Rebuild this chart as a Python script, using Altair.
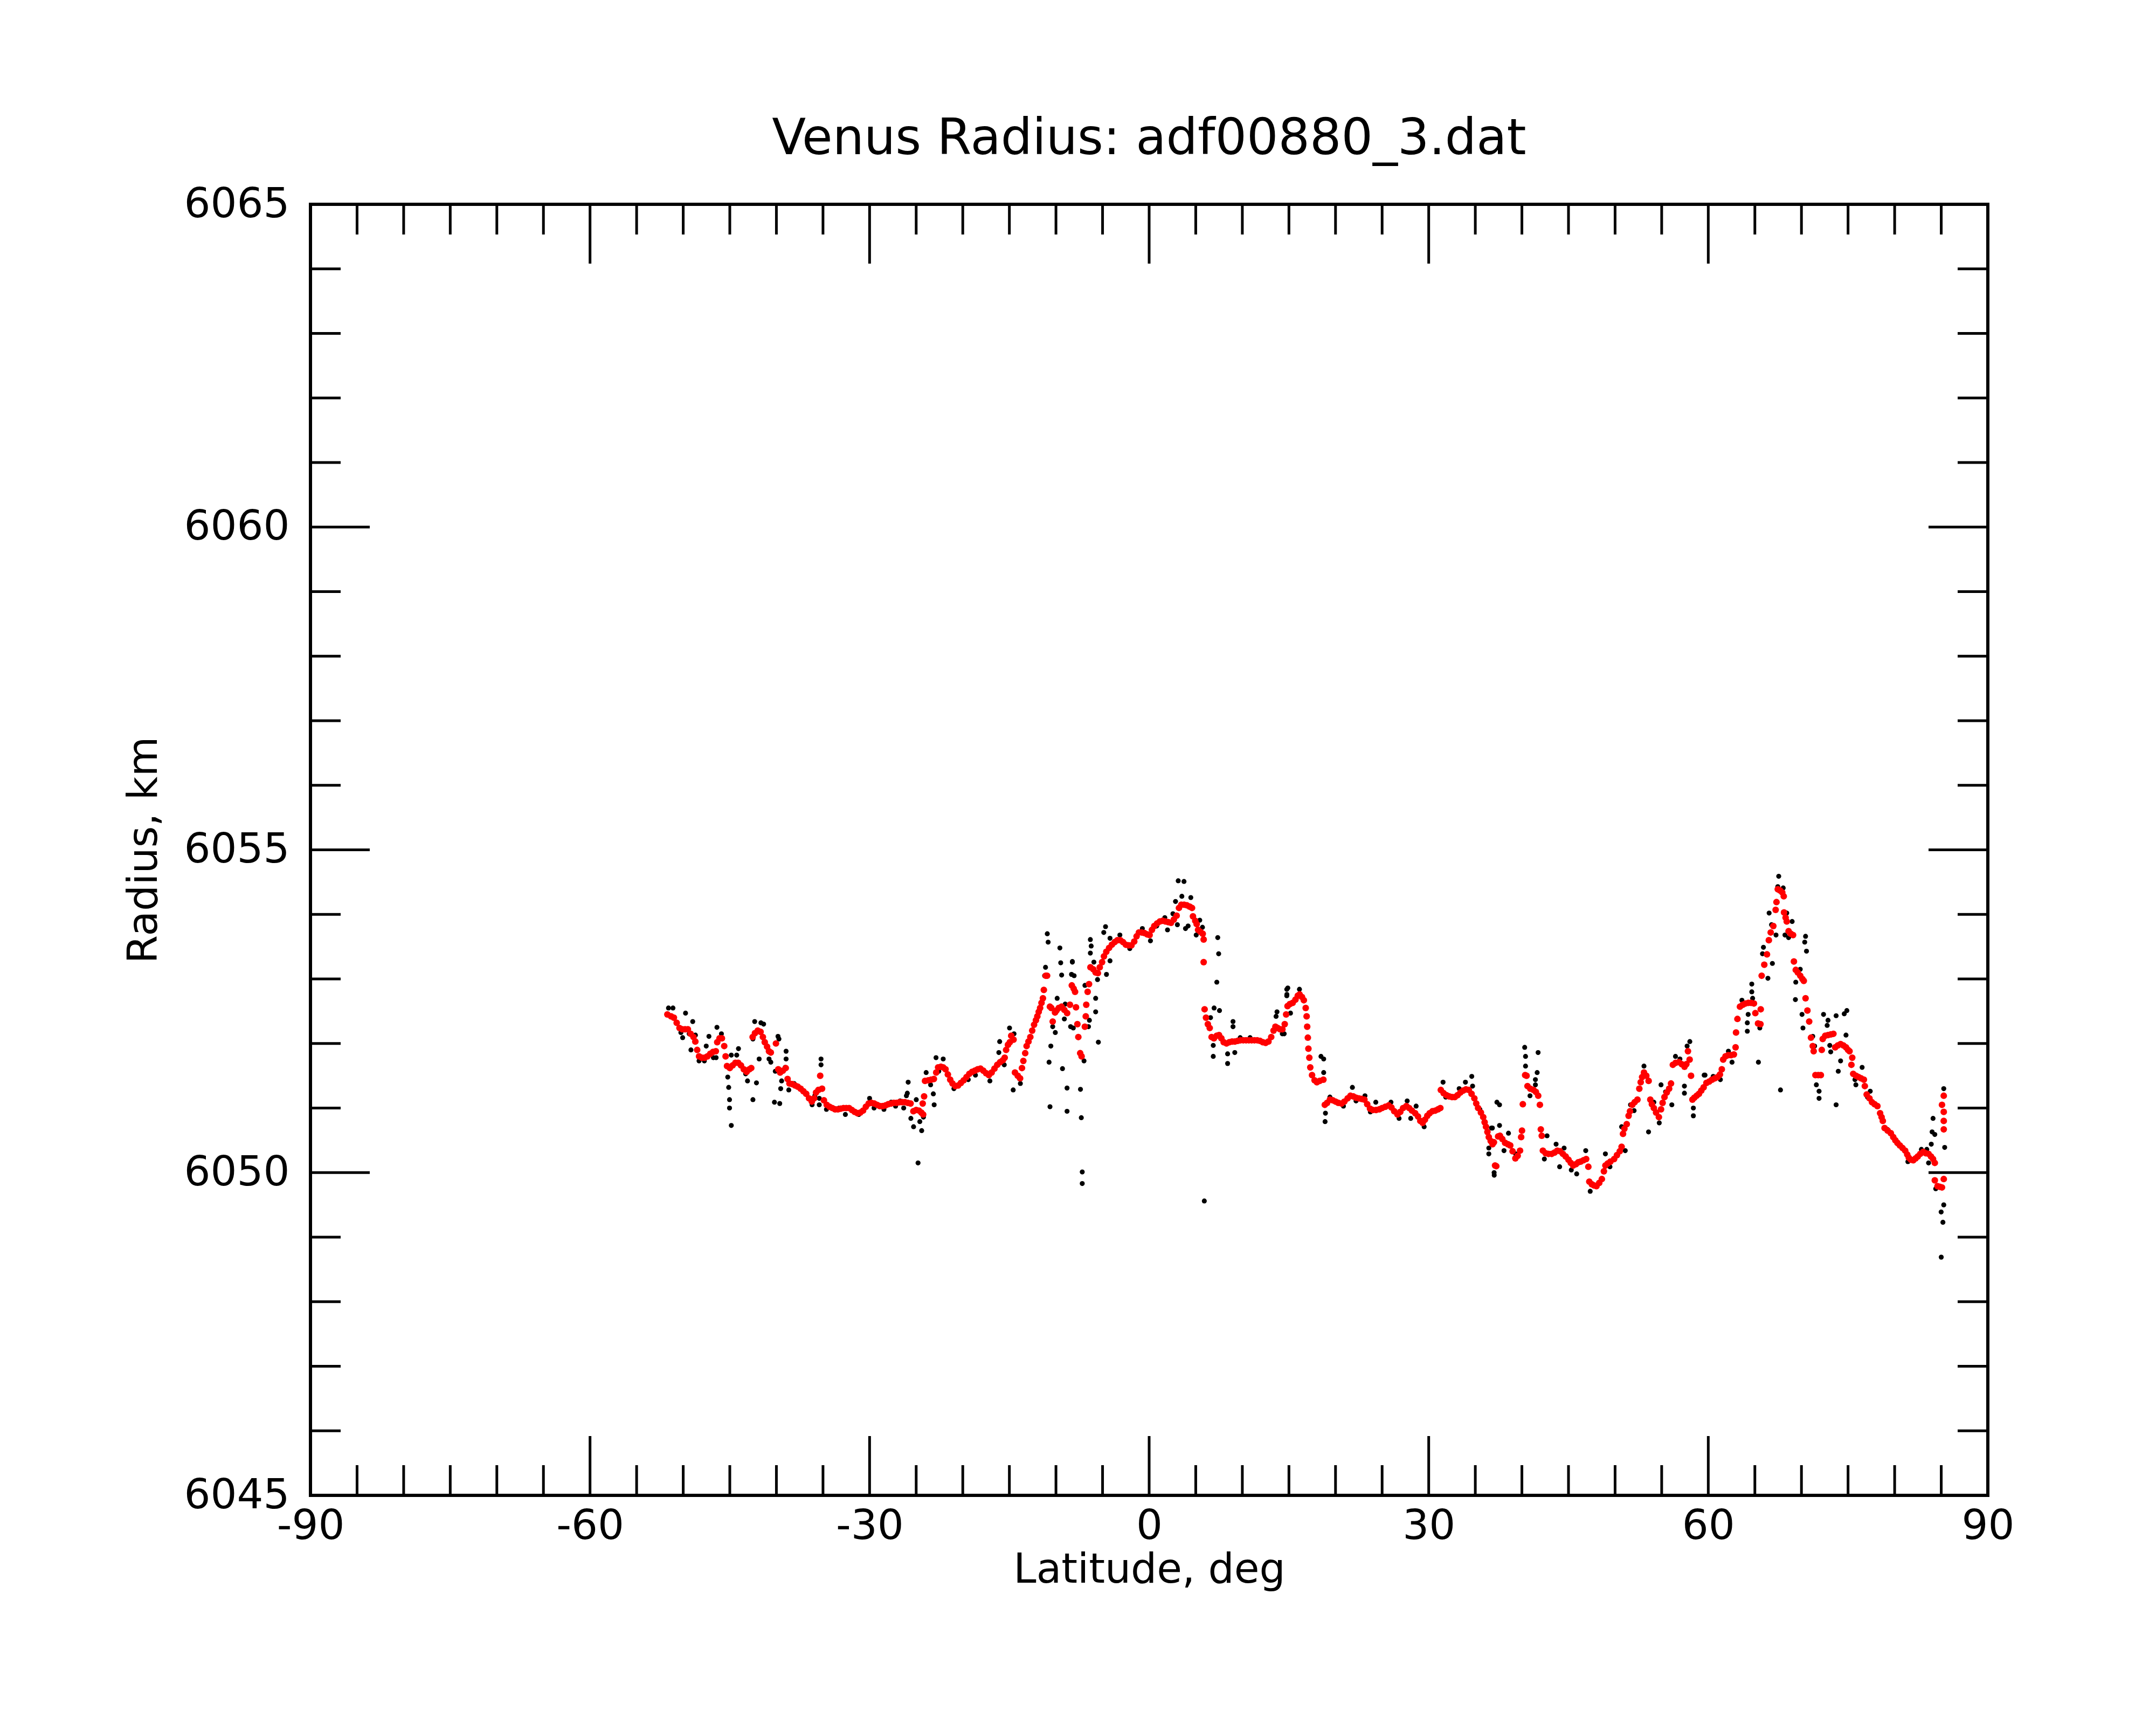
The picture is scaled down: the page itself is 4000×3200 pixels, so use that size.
import altair as alt
import pandas as pd

# ---- smoothed radius (red) ----
red_lat = [
-51.7,-51.3,-51.0,-50.7,-50.4,-50.1,-49.8,-49.5,-49.2,-48.9,-48.7,-48.5,-48.3,-48.0,-47.7,-47.4,-47.1,-46.8,-46.5,-46.35,
-46.1,-45.85,-45.6,-45.45,-45.3,-45.0,-44.7,-44.4,-44.1,-43.8,-43.5,-43.2,-42.9,-42.7,-42.55,-42.3,-42.0,-41.7,-41.45,-41.25,
-41.0,-40.8,-40.6,-40.05,-39.8,-39.6,-39.3,-39.0,-38.8,-38.6,-38.3,-38.0,-37.7,-37.4,-37.1,-36.8,-36.5,-36.2,-35.95,-35.75,
-35.5,-35.3,-35.1,-34.9,-34.6,-34.3,-34.0,-33.7,-33.4,-33.1,-32.8,-32.5,-32.2,-31.9,-31.6,-31.3,-31.0,-30.7,-30.4,-30.1,
-29.8,-29.5,-29.2,-28.9,-28.6,-28.3,-28.0,-27.7,-27.4,-27.1,-26.8,-26.5,-26.2,-25.9,-25.6,-25.3,-25.0,-24.7,-24.45,-24.25,
-24.3,-24.15,-24.05,-23.7,-23.4,-23.1,-22.85,-22.65,-22.35,-22.1,-21.85,-21.6,-21.35,-21.1,-20.8,-20.5,-20.2,-19.9,-19.6,-19.3,
-19.0,-18.7,-18.4,-18.1,-17.8,-17.5,-17.2,-16.9,-16.6,-16.3,-16.0,-15.7,-15.5,-15.35,-15.15,-14.95,-14.8,-14.55,-14.4,-14.1,
-13.85,-13.65,-13.5,-13.3,-13.15,-12.95,-12.75,-12.55,-12.35,-12.15,-12.0,-11.85,-11.7,-11.55,-11.4,-11.3,-11.1,-10.95,-10.65,-10.5,
-10.35,-10.1,-9.95,-9.7,-9.4,-9.1,-8.8,-8.5,-8.3,-8.1,-7.95,-7.85,-7.7,-7.6,-7.4,-7.25,-6.9,-6.8,-6.75,-6.6,
-6.45,-6.3,-6.0,-5.75,-5.5,-5.3,-5.05,-4.85,-4.6,-4.3,-4.0,-3.7,-3.4,-3.1,-2.8,-2.5,-2.2,-1.9,-1.6,-1.35,
-1.1,-0.8,-0.5,-0.2,0.05,0.3,0.55,0.85,1.15,1.45,1.75,2.05,2.35,2.65,2.95,3.2,3.45,3.75,4.05,4.35,
4.6,4.7,4.95,5.1,5.25,5.5,5.75,5.85,5.85,5.95,6.1,6.3,6.5,6.7,6.95,7.25,7.5,7.75,8.0,8.3,
8.6,8.9,9.2,9.5,9.8,10.1,10.4,10.7,11.0,11.3,11.6,11.9,12.2,12.5,12.8,13.1,13.35,13.55,13.8,14.05,
14.3,14.55,14.7,14.85,15.1,15.4,15.7,15.95,16.15,16.4,16.6,16.8,16.9,16.96,17.03,17.09,17.19,17.29,17.48,17.75,
18.0,18.3,18.7,18.85,19.1,19.4,19.7,20.0,20.3,20.65,20.95,21.3,21.6,21.9,22.2,22.5,22.8,23.1,23.4,23.7,
24.0,24.35,24.7,25.0,25.35,25.7,26.0,26.3,26.65,26.95,27.25,27.6,27.9,28.2,28.55,28.85,29.1,29.35,29.6,29.85,
30.1,30.4,30.7,31.0,31.25,31.3,31.6,31.9,32.2,32.5,32.8,33.1,33.4,33.7,34.0,34.3,34.6,34.9,35.1,35.3,
35.6,35.85,36.0,36.15,36.3,36.45,36.65,36.85,37.0,37.12,37.25,37.45,37.65,37.9,38.2,38.5,38.75,39.0,39.3,39.55,
39.8,39.92,40.01,40.1,40.35,40.5,40.6,40.9,41.25,41.5,41.75,41.93,42.03,42.13,42.25,42.55,42.85,43.2,43.5,43.8,
44.1,44.4,44.7,45.0,45.25,45.5,45.8,46.05,46.3,46.6,46.9,47.13,47.23,47.5,47.75,48.0,48.3,48.58,48.8,48.96,
49.2,49.5,49.9,50.2,50.5,50.7,50.85,51.0,51.25,51.45,51.6,51.85,52.1,52.4,52.6,52.75,52.9,53.1,53.35,53.6,
53.78,53.95,54.16,54.4,54.7,54.93,55.1,55.3,55.55,55.8,56.0,56.2,56.5,56.85,57.15,57.45,57.65,57.82,58.0,58.15,
58.3,58.5,58.75,59.0,59.25,59.5,59.8,60.1,60.4,60.7,61.0,61.25,61.45,61.6,61.85,62.15,62.45,62.75,62.93,62.98,
63.13,63.4,63.7,64.0,64.3,64.6,64.9,65.05,65.34,65.6,65.63,65.73,66.01,66.3,66.5,66.7,66.98,67.23,67.32,67.46,
67.7,67.94,68.1,68.13,68.3,68.42,68.62,68.85,69.1,69.19,69.39,69.6,69.87,70.1,70.25,70.44,70.64,70.83,71.02,71.21,
71.31,71.5,71.8,72.08,72.18,72.28,72.55,72.85,73.15,73.43,73.62,73.9,74.2,74.5,74.78,75.0,75.16,75.45,75.36,75.55,
75.85,76.13,76.4,76.7,76.8,77.0,77.3,77.57,77.85,78.15,78.44,78.6,78.73,78.92,79.25,79.59,79.85,80.08,80.3,80.56,
80.85,81.13,81.35,81.52,81.75,82.0,82.25,82.48,82.75,83.06,83.35,83.64,83.9,84.12,84.31,84.31,84.6,84.85,85.08,85.27,
85.27,85.27,85.27,85.08,85.27]
red_r = [
6052.45,6052.42,6052.40,6052.32,6052.24,6052.22,6052.22,6052.22,6052.15,6052.10,6052.03,6051.90,6051.80,6051.78,6051.78,6051.80,6051.84,6051.87,6051.88,6052.02,
6052.08,6052.08,6051.96,6051.80,6051.65,6051.62,6051.66,6051.70,6051.70,6051.66,6051.60,6051.56,6051.60,6051.62,6052.10,6052.16,6052.20,6052.18,6052.10,6052.02,
6051.95,6051.88,6051.86,6052.00,6051.60,6051.55,6051.58,6051.62,6051.45,6051.38,6051.37,6051.35,6051.33,6051.30,6051.26,6051.22,6051.15,6051.10,6051.15,6051.24,
6051.28,6051.50,6051.30,6051.12,6051.05,6051.02,6051.00,6050.98,6050.98,6050.99,6051.00,6051.00,6051.00,6050.97,6050.94,6050.92,6050.93,6050.96,6051.02,6051.07,
6051.08,6051.07,6051.05,6051.03,6051.03,6051.04,6051.06,6051.07,6051.08,6051.08,6051.09,6051.09,6051.09,6051.08,6051.07,6050.95,6050.97,6050.96,6050.93,6050.90,
6051.07,6051.18,6051.42,6051.43,6051.44,6051.45,6051.55,6051.63,6051.64,6051.63,6051.60,6051.52,6051.44,6051.38,6051.34,6051.35,6051.39,6051.43,6051.48,6051.53,
6051.56,6051.58,6051.60,6051.61,6051.58,6051.54,6051.51,6051.55,6051.61,6051.67,6051.71,6051.74,6051.78,6051.90,6051.98,6052.02,6052.12,6052.06,6051.55,6051.50,
6051.46,6051.62,6051.73,6051.85,6051.96,6052.03,6052.10,6052.20,6052.29,6052.36,6052.42,6052.49,6052.55,6052.63,6052.70,6052.83,6053.05,6053.05,6052.57,6052.55,
6052.34,6052.48,6052.51,6052.55,6052.57,6052.52,6052.47,6052.60,6052.90,6052.85,6052.80,6052.56,6052.30,6052.10,6051.85,6051.80,6052.26,6052.42,6052.60,6052.80,
6052.92,6053.18,6053.15,6053.10,6053.09,6053.18,6053.26,6053.35,6053.42,6053.48,6053.53,6053.57,6053.60,6053.60,6053.57,6053.53,6053.52,6053.52,6053.58,6053.66,
6053.72,6053.72,6053.71,6053.69,6053.68,6053.76,6053.82,6053.86,6053.89,6053.90,6053.89,6053.88,6053.87,6053.92,6053.98,6054.10,6054.15,6054.15,6054.14,6054.12,
6054.10,6053.97,6053.90,6053.85,6053.76,6053.73,6053.70,6053.61,6053.26,6052.53,6052.40,6052.30,6052.24,6052.10,6052.08,6052.12,6052.13,6052.08,6052.02,6052.00,
6052.02,6052.03,6052.03,6052.04,6052.05,6052.05,6052.05,6052.05,6052.05,6052.05,6052.05,6052.04,6052.02,6052.01,6052.03,6052.10,6052.20,6052.26,6052.24,6052.22,
6052.22,6052.30,6052.45,6052.58,6052.61,6052.63,6052.68,6052.74,6052.76,6052.72,6052.67,6052.55,6052.42,6052.26,6052.09,6051.92,6051.78,6051.63,6051.51,6051.43,
6051.40,6051.42,6051.44,6051.05,6051.08,6051.13,6051.12,6051.10,6051.08,6051.07,6051.10,6051.15,6051.19,6051.18,6051.16,6051.15,6051.14,6051.13,6051.06,6050.99,
6050.97,6050.97,6050.98,6051.00,6051.02,6051.04,6051.01,6050.95,6050.90,6050.94,6051.00,6051.03,6051.00,6050.96,6050.92,6050.87,6050.80,6050.77,6050.82,6050.88,
6050.92,6050.95,6050.96,6050.98,6051.00,6051.28,6051.23,6051.20,6051.18,6051.17,6051.17,6051.20,6051.24,6051.27,6051.29,6051.28,6051.22,6051.15,6051.07,6051.00,
6050.93,6050.86,6050.78,6050.71,6050.63,6050.55,6050.49,6050.44,6050.47,6050.11,6050.10,6050.56,6050.57,6050.52,6050.46,6050.44,6050.42,6050.33,6050.22,6050.26,
6050.34,6050.55,6050.65,6051.06,6051.51,6051.50,6051.34,6051.30,6051.28,6051.25,6051.19,6051.05,6050.67,6050.57,6050.34,6050.30,6050.29,6050.29,6050.31,6050.34,
6050.33,6050.29,6050.25,6050.20,6050.15,6050.11,6050.13,6050.16,6050.17,6050.19,6050.21,6050.09,6049.86,6049.82,6049.80,6049.79,6049.84,6049.90,6050.02,6050.11,
6050.14,6050.17,6050.21,6050.27,6050.33,6050.40,6050.60,6050.68,6050.75,6050.88,6050.95,6051.05,6051.09,6051.13,6051.30,6051.40,6051.48,6051.55,6051.50,6051.42,
6051.13,6051.06,6051.00,6050.93,6050.86,6050.98,6051.08,6051.17,6051.24,6051.30,6051.38,6051.67,6051.70,6051.71,6051.68,6051.64,6051.68,6051.88,6051.75,6051.50,
6051.13,6051.16,6051.19,6051.22,6051.27,6051.32,6051.39,6051.41,6051.44,6051.46,6051.48,6051.52,6051.60,6051.75,6051.80,6051.82,6051.82,6051.83,6051.94,6052.17,
6052.38,6052.57,6052.60,6052.62,6052.63,6052.63,6052.62,6052.47,6052.31,6052.30,6052.53,6053.05,6053.22,6053.38,6053.60,6053.72,6053.82,6054.07,6054.19,6054.39,
6054.37,6054.34,6054.28,6054.03,6053.95,6053.89,6053.74,6053.70,6053.68,6053.27,6053.14,6053.10,6053.05,6053.00,6052.97,6052.70,6052.51,6052.34,6052.09,6051.96,
6051.88,6051.51,6051.51,6051.51,6051.90,6052.07,6052.12,6052.13,6052.14,6052.15,6051.94,6051.97,6051.99,6051.97,6051.94,6051.90,6051.88,6051.78,6051.67,6051.53,
6051.50,6051.48,6051.46,6051.44,6051.34,6051.21,6051.15,6051.09,6051.06,6051.03,6050.92,6050.86,6050.80,6050.69,6050.65,6050.61,6050.55,6050.50,6050.46,6050.42,
6050.38,6050.34,6050.28,6050.23,6050.20,6050.19,6050.22,6050.25,6050.29,6050.32,6050.30,6050.29,6050.25,6050.21,6050.15,6049.88,6049.79,6049.78,6049.77,6049.90,
6050.67,6050.80,6050.94,6051.05,6051.19]

# ---- individual radius measurements (black) ----
black_lat = [
-51.58,-51.1,-49.75,-48.98,-50.06,-50.25,-49.17,-49.36,-48.69,-48.3,-47.73,-47.53,-47.24,-46.76,-46.47,-46.38,-45.9,-45.22,-45.12,-45.03,
-45.03,-44.84,-44.84,-44.07,-44.26,-43.87,-43.1,-43.3,-42.52,-42.14,-41.85,-42.33,-41.66,-41.37,-42.52,-40.79,-40.6,-40.21,-39.64,-39.54,
-39.44,-40.12,-39.83,-39.73,-38.96,-38.96,-39.06,-38.67,-38.1,-36.17,-35.88,-35.4,-35.4,-35.21,-35.21,-34.63,-33.28,-32.6,-32.32,-31.16,
-30.0,-29.52,-28.46,-27.69,-27.21,-26.73,-26.34,-25.95,-25.86,-26.05,-25.57,-25.28,-24.99,-24.8,-24.41,-24.61,-24.22,-23.93,-23.45,-23.16,
-23.07,-22.87,-22.1,-22.58,-20.95,-19.41,-18.64,-17.09,-16.04,-16.13,-15.55,-14.98,-14.5,-14.59,-13.82,-11.22,-11.12,-10.93,-10.84,-10.55,
-10.74,-10.64,-10.35,-10.07,-9.87,-9.58,-9.49,-9.39,-9.3,-9.1,-9.01,-8.81,-8.81,-8.43,-8.24,-8.33,
-8.24,-8.05,-8.14,-7.37,-7.28,-7.18,-7.18,-6.99,-6.51,-6.41,-6.89,-5.74,-5.74,-5.45,-6.31,-6.22,-6.31,-5.93,-5.54,-4.87,
-4.68,-4.58,-4.2,-4.2,-3.14,-2.08,-0.73,0.14,0.81,1.68,1.97,2.55,2.83,3.12,3.74,3.51,4.47,3.03,3.9,4.18,
5.05,5.43,5.72,5.92,6.59,6.88,6.88,6.97,7.36,7.46,7.26,7.55,8.42,8.42,9.0,9.0,9.19,9.77,10.83,13.72,
13.62,14.29,14.77,14.77,
14.49,14.88,14.78,15.17,16.13,18.44,18.73,18.73,18.92,18.88,19.4,20.85,21.81,22.2,23.16,24.32,23.74,25.95,26.82,27.69,
28.65,28.07,29.51,31.54,31.83,33.27,33.94,34.62,34.71,35.49,36.74,36.45,36.45,37.03,37.32,
37.02,37.6,37.6,36.83,38.56,38.08,39.33,40.3,40.39,40.39,40.87,41.74,41.64,41.45,41.45,42.7,42.41,43.67,44.05,44.53,
45.3,45.88,46.85,47.33,48.96,49.45,50.7,51.09,51.66,52.04,53.1,53.59,54.16,54.74,54.93,55.42,56.09,56.48,56.96,57.44,
57.44,58.02,57.73,58.4,58.4,59.65,
59.56,60.53,61.3,62.16,62.55,63.61,64.19,64.19,64.28,64.67,64.67,64.76,65.38,65.53,65.92,65.82,66.4,66.53,66.88,66.79,
67.27,67.56,67.46,68.04,68.42,69.0,68.23,68.62,67.75,69.87,69.39,69.35,70.44,70.35,70.54,70.06,70.16,71.21,71.41,71.6,
71.89,71.89,72.37,72.85,72.76,73.04,73.14,73.72,74.59,74.87,74.78,74.2,73.95,73.72,76.51,75.84,75.74,77.38,77.09,79.21,
80.36,81.42,82.87,83.45,83.64,84.12,84.02,84.31,83.93,85.27,85.37,84.41,85.27,84.99,85.18,85.0]
black_r = [
6052.55,6052.55,6052.47,6052.34,6052.09,6052.17,6051.90,6052.15,6052.13,6051.73,6051.73,6051.96,6052.11,6051.78,6051.78,6052.25,6052.15,6051.48,6051.32,6051.13,
6051.00,6050.73,6051.82,6051.92,6051.82,6051.67,6051.42,6051.53,6051.13,6051.39,6051.76,6052.34,6052.32,6052.30,6052.07,6051.76,6051.71,6051.09,6051.07,6051.30,
6051.42,6051.57,6052.11,6052.07,6051.88,6051.76,6051.63,6051.28,6051.38,6051.05,6051.19,6051.05,6051.15,6051.76,6051.67,6050.98,6051.00,6050.90,6051.00,6050.90,
6051.15,6051.00,6050.98,6051.09,6051.03,6051.11,6051.00,6051.23,6051.40,6051.19,6050.84,6050.71,6051.13,6050.15,6050.65,6050.79,6050.86,6051.55,6051.36,6051.22,
6051.05,6051.78,6051.76,6051.57,6051.30,6051.44,6051.51,6051.42,6052.03,6051.86,6051.67,6052.24,6052.15,6051.28,6051.38,6053.05,6053.18,6053.70,6053.57,6051.96,
6051.71,6051.02,6052.26,6052.17,6052.70,6053.48,6053.25,6053.06,6051.61,6052.38,6052.61,6051.31,6050.95,6052.26,6053.26,6053.07,
6053.27,6053.05,6052.24,6051.29,6050.85,6050.01,6049.83,6051.73,6052.26,6052.36,6052.90,6052.70,6052.49,6052.02,6053.61,6053.51,6053.40,6053.26,6052.99,6053.72,
6053.81,6053.07,6053.28,6053.63,6053.68,6053.47,6053.78,6053.59,6053.82,6053.95,6053.76,6054.01,6054.20,6054.52,6054.51,6054.28,6054.26,6053.84,6053.78,6053.82,
6053.68,6053.91,6053.80,6049.56,6052.40,6051.97,6051.80,6052.55,6053.64,6053.39,6052.95,6052.51,6051.69,6051.84,6052.34,6052.26,6051.86,6052.09,6052.09,6052.49,
6052.42,6052.15,6052.84,6052.74,
6052.15,6052.86,6052.76,6052.47,6052.84,6051.80,6051.76,6051.55,6050.92,6050.79,6051.17,6051.03,6051.32,6051.11,6051.19,6051.09,6050.94,6051.09,6050.84,6051.11,
6051.03,6050.84,6050.71,6051.40,6051.17,6051.30,6051.40,6051.49,6051.34,6050.98,6050.69,6050.38,6050.29,6049.96,6051.09,
6050.00,6051.05,6050.73,6050.69,6050.61,6050.34,6050.29,6051.94,6051.80,6051.65,6051.19,6051.86,6051.55,6051.36,6051.44,6050.57,6050.21,6050.44,6050.09,6050.38,
6050.04,6049.98,6050.34,6049.71,6050.29,6050.09,6050.71,6050.34,6051.05,6050.96,6051.65,6050.63,6051.09,6050.77,6051.36,6051.25,6051.05,6051.80,6051.76,6051.34,
6051.23,6052.03,6051.96,6050.88,6051.00,6051.51,
6051.51,6051.49,6051.44,6051.88,6051.71,6052.67,6052.32,6052.19,6052.45,6052.92,6052.80,6052.70,6051.71,6052.24,6053.49,6053.39,6053.01,6054.02,6053.24,6053.84,
6053.68,6054.59,6054.43,6054.41,6054.02,6053.89,6053.68,6053.64,6051.28,6053.15,6052.95,6052.68,6053.66,6053.57,6053.43,6052.45,6052.24,6052.11,6051.96,6051.36,
6051.26,6051.15,6052.45,6052.36,6052.28,6051.97,6051.87,6052.43,6052.46,6052.51,6052.13,6051.73,6051.57,6051.05,6051.63,6051.36,6051.44,6051.26,6051.17,6050.67,
6050.44,6050.17,6050.36,6050.36,6050.15,6050.84,6050.63,6050.59,6050.44,6051.30,6050.39,6049.75,6049.50,6049.39,6049.23,6048.69]

# ---- axis tick positions ----
x_labels = [-90, -60, -30, 0, 30, 60, 90]
y_labels = [6045, 6050, 6055, 6060, 6065]
x_major = [-60, -30, 0, 30, 60]
x_minor = [v for v in range(-85, 90, 5) if v % 30 != 0]
y_major = [6050, 6055, 6060]
y_minor = [v for v in range(6046, 6065) if v % 5 != 0]

W, H = 3112, 2395
MAJ, MIN = 110, 56
FONT = "DejaVu Sans"

red = pd.DataFrame({"lat": red_lat, "r": red_r})
black = pd.DataFrame({"lat": black_lat, "r": black_r})

xs = alt.Scale(domain=[-90, 90], nice=False, zero=False)
ys = alt.Scale(domain=[6045, 6065], nice=False, zero=False)

xaxis = alt.Axis(values=x_labels, labelExpr="'' + datum.value", ticks=False,
                 domain=False, grid=False, labelFont=FONT, labelFontSize=77, labelColor="black",
                 labelPadding=19, labelLimit=1000, title="Latitude, deg", titleFont=FONT,
                 titleFontSize=76, titleFontWeight="normal", titleColor="black", titlePadding=6,
                 labelFlush=False, labelOverlap=False)
yaxis = alt.Axis(values=y_labels, labelExpr="'' + datum.value", ticks=False,
                 domain=False, grid=False, labelFont=FONT, labelFontSize=77, labelColor="black",
                 labelPadding=39, labelLimit=1000, title="Radius, km", titleFont=FONT,
                 titleFontSize=76, titleFontWeight="normal", titleColor="black", titlePadding=70,
                 labelFlush=False, labelOverlap=False)

X = alt.X("lat:Q", scale=xs, axis=xaxis)
Y = alt.Y("r:Q", scale=ys, axis=yaxis)

pts_black = alt.Chart(black).mark_circle(color="black", opacity=1, size=85).encode(x=X, y=Y)
pts_red = alt.Chart(red).mark_circle(color="#ff0000", opacity=1, size=150).encode(x=X, y=Y)

TW = 5

def xticks(vals, y0, y1):
    df = pd.DataFrame({"lat": vals})
    return alt.Chart(df).mark_rule(color="black", strokeWidth=TW).encode(
        x=X, y=alt.value(y0), y2=alt.value(y1))

def yticks(vals, x0, x1):
    df = pd.DataFrame({"r": vals})
    return alt.Chart(df).mark_rule(color="black", strokeWidth=TW).encode(
        y=Y, x=alt.value(x0), x2=alt.value(x1))

ticks = [
    xticks(x_major, H, H - MAJ), xticks(x_minor, H, H - MIN),
    xticks(x_major, 0, MAJ), xticks(x_minor, 0, MIN),
    yticks(y_major, 0, MAJ), yticks(y_minor, 0, MIN),
    yticks(y_major, W, W - MAJ), yticks(y_minor, W, W - MIN),
]

chart = alt.layer(pts_black, pts_red, *ticks).properties(
    width=W, height=H,
    background="white",
    title=alt.TitleParams("Venus Radius: adf00880_3.dat", font=FONT, fontSize=92,
                          fontWeight="normal", color="black", anchor="middle",
                          frame="group", baseline="bottom", offset=-57),
    autosize=alt.AutoSizeParams(type="none"),
    padding={"left": 568, "top": 371, "right": 304, "bottom": 418},
).configure_view(stroke="black", strokeWidth=6)

chart.save("out.html", embed_options={"renderer": "svg", "actions": False})
